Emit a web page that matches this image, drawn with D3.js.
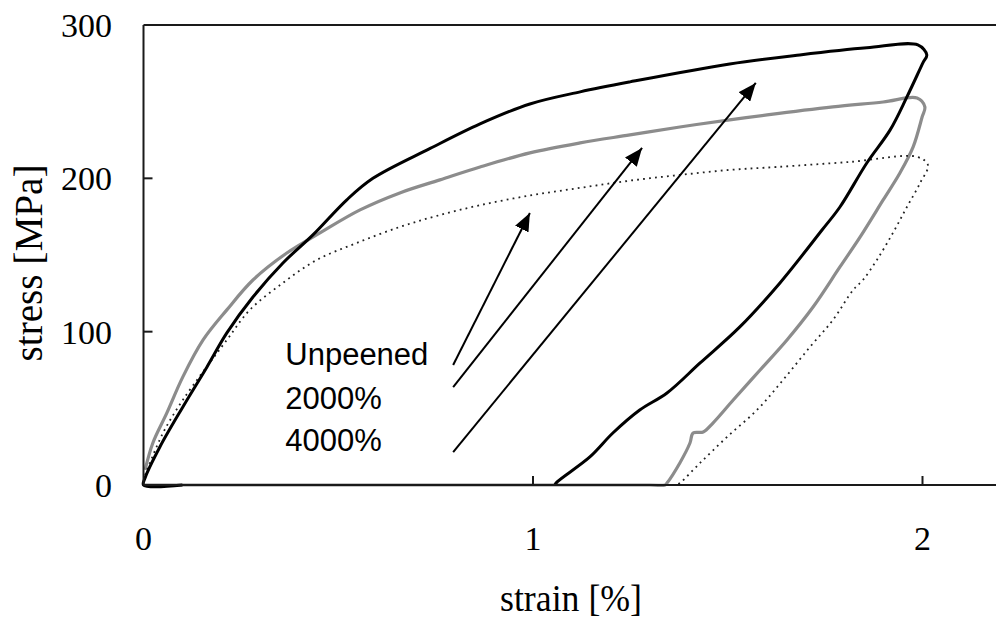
<!DOCTYPE html>
<html>
<head>
<meta charset="utf-8">
<script src="https://cdn.jsdelivr.net/npm/d3@7/dist/d3.min.js"></script>
<style>
  html, body { margin: 0; padding: 0; background: #fff; }
  svg { display: block; }
</style>
</head>
<body>
<svg id="chart" width="996" height="623"></svg>
<script>
// ---- data (strain %, stress MPa) ----
const unpeened = [
  [0.004,6.5],[0.050,33.9],[0.101,55.4],[0.214,94.6],[0.273,114.2],[0.358,131.8],
  [0.445,146.8],[0.548,157.9],[0.658,168.3],[0.753,175.5],[0.864,182.5],[0.992,188.8],
  [1.121,193.8],[1.249,198.5],[1.377,202.2],[1.505,205.5],[1.626,207.4],[1.814,210.7],
  [1.986,214],[2.014,208.7],[1.994,197],[1.960,181.3],[1.924,164.4],[1.883,146.8],
  [1.847,133.7],[1.822,127.2],[1.770,107.6],[1.711,90],[1.642,68.5],[1.575,48.9],
  [1.498,31.3],[1.429,14.4],[1.377,1.3],[1.367,0]
];
const peened2000 = [
  [0,0],[0.05,0],[1.30,0],[1.339,0],[1.344,1.3],[1.377,14.4],[1.403,27.4],[1.411,33.9],[1.437,34.6],
  [1.462,40.4],[1.514,55.4],[1.583,75],[1.652,94.6],[1.719,116.1],[1.788,142.2],
  [1.840,161.8],[1.899,185.9],[1.942,203.5],[1.976,220.5],[1.999,240],[2.006,246.6],
  [1.986,252.4],[1.899,249.8],[1.770,246.6],[1.601,241.4],[1.505,238.1],[1.377,233.5],
  [1.249,228.3],[1.121,223.1],[0.992,216.6],[0.864,207.4],[0.761,199],[0.658,190.5],
  [0.556,179.4],[0.453,164.4],[0.368,151.3],[0.281,133.7],[0.214,114.2],[0.153,94.6],
  [0.101,70.5],[0.060,47],[0.024,27.4],[0.004,9.8]
];
const peened4000 = [
  [0.1,0],[0,0],[0.004,4.6],[0.042,24.8],[0.101,50.9],[0.163,77],[0.214,99.2],
  [0.281,122.6],[0.358,144.8],[0.435,163.1],[0.522,186],[0.589,200],[0.736,219.5],
  [0.864,235.5],[0.992,248.5],[1.121,256.4],[1.249,262.9],[1.505,274.6],[1.685,280.5],[1.857,285.1],[1.988,287],
  [2.011,280.5],[2.001,275.3],[1.960,253.1],[1.917,231.6],[1.857,210],[1.788,181.3],
  [1.742,166.3],[1.634,131.8],[1.531,103.1],[1.429,79.6],[1.344,60],[1.274,48.9],
  [1.205,33.9],[1.146,18.3],[1.062,2],[1.056,0]
];
const xTicks = [0, 1, 2];
const yTicks = [0, 100, 200, 300];
const labels = ["Unpeened", "2000%", "4000%"];
const labelPos = [[0.364, 78.3], [0.364, 49.6], [0.364, 22.2]];
const arrowFrom = [[0.795, 78.3], [0.795, 63.9], [0.795, 21.5]];
const arrowTo = [[0.992, 177.4], [1.280, 219.8], [1.572, 262.2]];
const xTitle = "strain [%]";
const yTitle = "stress [MPa]";

// ---- layout ----
const svg = d3.select("#chart");
const x = d3.scaleLinear().domain([0, 2.2]).range([143.5, 143.5 + 2.2 * 389.5]);
const y = d3.scaleLinear().domain([0, 300]).range([485, 25]);
const line = d3.line().x(d => x(d[0])).y(d => y(d[1])).curve(d3.curveCatmullRom.alpha(0.5));

// arrow marker
svg.append("defs").append("marker")
  .attr("id", "ah").attr("markerUnits", "userSpaceOnUse")
  .attr("viewBox", "0 0 18 15").attr("refX", 18).attr("refY", 7.5)
  .attr("markerWidth", 18).attr("markerHeight", 15).attr("orient", "auto")
  .append("path").attr("d", "M0,0 L18,7.5 L0,15 Z").attr("fill", "#000");

// curves
svg.append("path").datum(peened2000).attr("d", line)
  .attr("fill", "none").attr("stroke", "#8c8c8c").attr("stroke-width", 3.2)
  .attr("stroke-linejoin", "round");
svg.append("path").datum(unpeened).attr("d", line)
  .attr("fill", "none").attr("stroke", "#222").attr("stroke-width", 1.8)
  .attr("stroke-dasharray", "1.8,4.2");
svg.append("path").datum(peened4000).attr("d", line)
  .attr("fill", "none").attr("stroke", "#000").attr("stroke-width", 3)
  .attr("stroke-linejoin", "round");

// frame/axes
const axisColor = "#1a1a1a";
svg.append("line").attr("x1", x(0)).attr("x2", x(2.2)).attr("y1", y(0)).attr("y2", y(0))
  .attr("stroke", axisColor).attr("stroke-width", 2);
svg.append("line").attr("x1", x(0)).attr("x2", x(2.2)).attr("y1", y(300)).attr("y2", y(300))
  .attr("stroke", axisColor).attr("stroke-width", 2);
svg.append("line").attr("x1", x(0)).attr("x2", x(0)).attr("y1", y(0)).attr("y2", y(300))
  .attr("stroke", axisColor).attr("stroke-width", 2);

// ticks
svg.selectAll(".yt").data(yTicks.filter(d => d > 0 && d < 300)).enter().append("line")
  .attr("x1", x(0)).attr("x2", x(0) + 9).attr("y1", d => y(d)).attr("y2", d => y(d))
  .attr("stroke", axisColor).attr("stroke-width", 2);
svg.selectAll(".xt").data(xTicks.filter(d => d > 0)).enter().append("line")
  .attr("x1", d => x(d)).attr("x2", d => x(d)).attr("y1", y(0)).attr("y2", y(0) - 9)
  .attr("stroke", axisColor).attr("stroke-width", 2);

const serif = "'Liberation Serif', 'Times New Roman', serif";
svg.selectAll(".yl").data(yTicks).enter().append("text")
  .attr("x", 112).attr("y", d => y(d) + 12).attr("text-anchor", "end")
  .attr("font-family", serif).attr("font-size", 34).attr("fill", "#000")
  .text(d => d);
svg.selectAll(".xl").data(xTicks).enter().append("text")
  .attr("x", d => x(d)).attr("y", 550).attr("text-anchor", "middle")
  .attr("font-family", serif).attr("font-size", 34).attr("fill", "#000")
  .text(d => d);

// axis titles
svg.append("text").attr("x", 571).attr("y", 611).attr("text-anchor", "middle")
  .attr("font-family", serif).attr("font-size", 38)
  .attr("textLength", 142).attr("lengthAdjust", "spacingAndGlyphs")
  .text(xTitle);
svg.append("text").attr("transform", "translate(42,263) rotate(-90)")
  .attr("text-anchor", "middle")
  .attr("font-family", serif).attr("font-size", 40)
  .attr("textLength", 197).attr("lengthAdjust", "spacingAndGlyphs")
  .text(yTitle);

// annotations
svg.selectAll(".lab").data(labels).enter().append("text")
  .attr("x", (d, i) => x(labelPos[i][0])).attr("y", (d, i) => y(labelPos[i][1]))
  .attr("font-family", "'Liberation Sans', Arial, sans-serif").attr("font-size", 31)
  .attr("fill", "#000").text(d => d);
svg.selectAll(".arr").data(arrowFrom).enter().append("line")
  .attr("x1", d => x(d[0])).attr("y1", d => y(d[1]))
  .attr("x2", (d, i) => x(arrowTo[i][0])).attr("y2", (d, i) => y(arrowTo[i][1]))
  .attr("stroke", "#000").attr("stroke-width", 2).attr("marker-end", "url(#ah)");
</script>
</body>
</html>
